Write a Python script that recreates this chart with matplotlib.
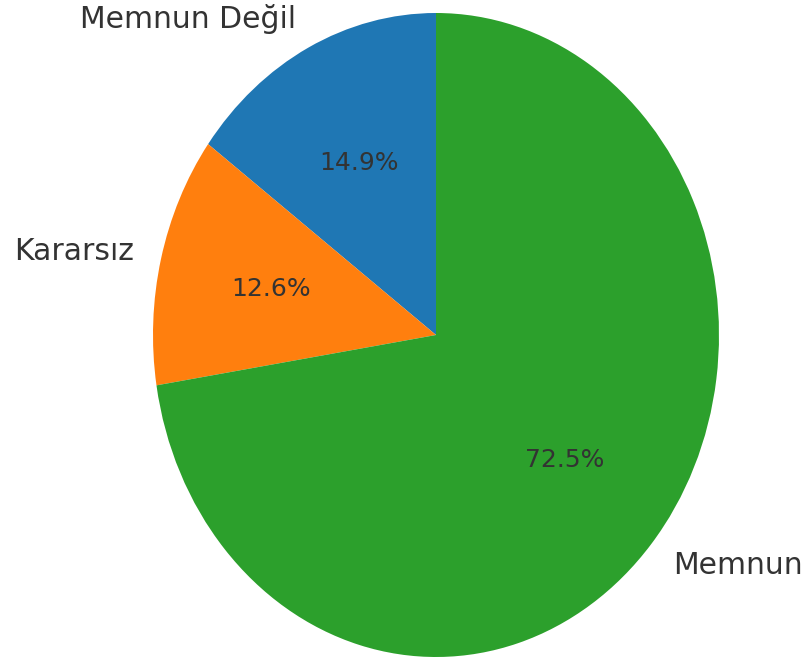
import matplotlib
matplotlib.use("Agg")
import matplotlib.pyplot as plt

# Data
labels = ["Memnun Değil", "Kararsız", "Memnun"]
shares = [14.9, 12.6, 72.5]
colors = ["#1f77b4", "#ff7f0e", "#2ca02c"]

plt.rcParams["font.family"] = ["DejaVu Sans"]

fig = plt.figure(figsize=(8.05, 6.61), dpi=100)
# the pie in the reference is stretched vertically, so the axes box is the ellipse box
ax = fig.add_axes([153 / 805, 4 / 661, 566 / 805, 644 / 661])

wedges, texts, autotexts = ax.pie(
    shares, labels=labels, colors=colors, startangle=90,
    autopct="%1.1f%%", textprops=dict(fontsize=21.5, color="#333333"))
for t in autotexts:
    t.set_fontsize(18)

ax.set_aspect("auto")
ax.set_xlim(-1, 1)
ax.set_ylim(-1, 1)

fig.savefig("out.png", dpi=100)
